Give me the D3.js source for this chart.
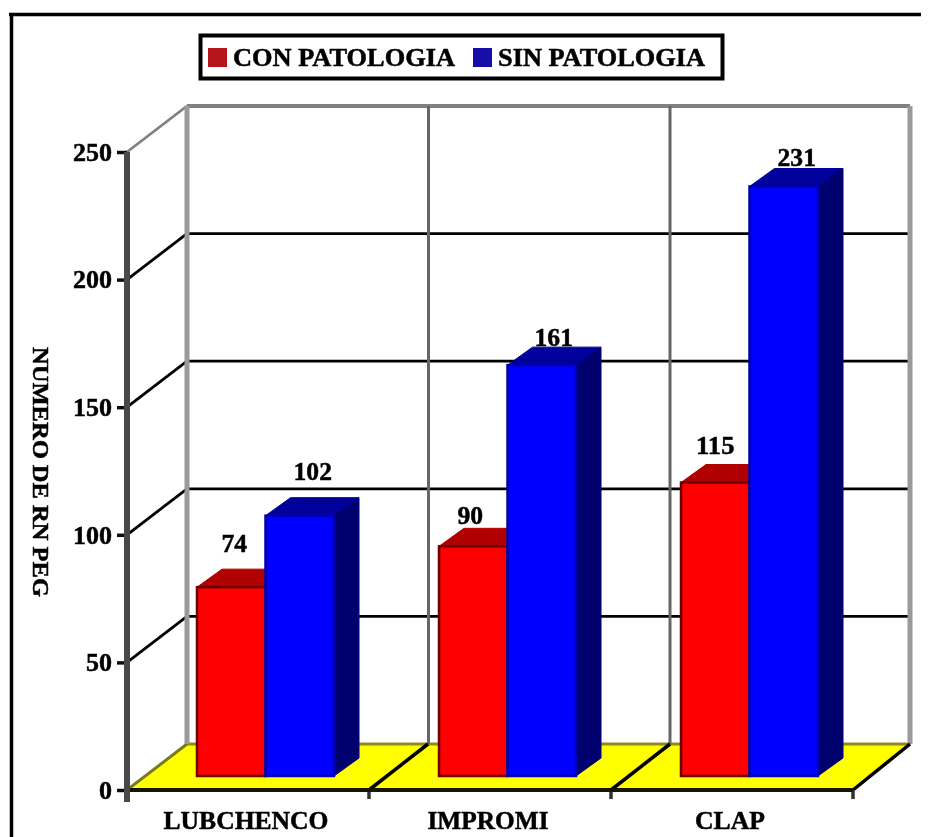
<!DOCTYPE html>
<html><head><meta charset="utf-8">
<script src="https://cdn.jsdelivr.net/npm/d3@7/dist/d3.min.js"></script>
<style>html,body{margin:0;padding:0;background:#fff}svg{display:block}
text{font-family:"Liberation Serif",serif;font-weight:bold;fill:#000;stroke:#000;stroke-width:0.5}</style>
</head><body><svg id="c" width="936" height="837"></svg>
<script>
const categories = ["LUBCHENCO","IMPROMI","CLAP"];
const seriesNames = ["CON PATOLOGIA","SIN PATOLOGIA"];
const conPatologia = [74,90,115];
const sinPatologia = [102,161,231];
const yTicks = [0,50,100,150,200,250];
const frontColors = ["#ff0000","#0000ff"];
const outlineColors = ["#6a0000","#0000b0"];
const topColors = ["#b00000","#00009a"];
const sideColors = ["#800000","#00006e"];
const legendColors = ["#b5121b","#1408a8"];
const yAxisTitle = "NUMERO DE RN PEG";
// label lift above each bar's front-top edge, by series then category
const labelLift = [[35,22,29],[36,19,20]];
const labelShift = [[3,-3,0],[13,12,13]];

const svg = d3.select("#c");
svg.append("defs").append("filter").attr("id","soft").attr("filterUnits","userSpaceOnUse")
  .attr("x",0).attr("y",0).attr("width",936).attr("height",837)
  .append("feGaussianBlur").attr("stdDeviation",0.7);
const g = svg.append("g").attr("filter","url(#soft)");
g.append("rect").attr("width",936).attr("height",837).attr("fill","#fff").attr("stroke","none");

const y = d3.scaleLinear().domain([0,250]).range([790,152]);
const x = d3.scaleBand().domain(categories).range([127,853]);
const depth = {dx:60,dy:-46};
const barInset = {dx:18,dy:-14};
const barDepth = {dx:25,dy:-18};
const barW = 68.5;
const poly = (pts,fill,stroke)=>g.append("polygon").attr("points",pts.map(p=>p.join(",")).join(" ")).attr("fill",fill)
  .attr("stroke",stroke||fill).attr("stroke-width",1).attr("stroke-linejoin","round");
const line = (x1,y1,x2,y2,c,w)=>g.append("line").attr("x1",x1).attr("y1",y1).attr("x2",x2).attr("y2",y2).attr("stroke",c).attr("stroke-width",w);
const label = (sel,size,len)=>sel.attr("font-size",size).attr("textLength",len).attr("lengthAdjust","spacingAndGlyphs");

// outer frame
line(9,14.5,921,14.5,"#000",3.5);
line(11.5,13,11.5,837,"#000",3.5);

const x0 = x.range()[0], x1 = x.range()[1], backR = x1+depth.dx-3;
poly([[x0+4,y(0)],[x1,y(0)],[backR,y(0)+depth.dy],[x0+depth.dx,y(0)+depth.dy]],"#ffff00");
line(x0+depth.dx,y(0)+depth.dy,backR,y(0)+depth.dy,"#8f8a20",3);
line(x0,y(0),x0+depth.dx,y(0)+depth.dy,"#7a7a20",3);
yTicks.forEach(t=>{
  const c = t===250?"#808080":"#000";
  if(t>0){
    line(x0,y(t),x0+depth.dx,y(t)+depth.dy,c,2.8);
    line(x0+depth.dx,y(t)+depth.dy,backR,y(t)+depth.dy,c,t===250?4:2.8);
  }
});
categories.forEach((c,i)=>{
  const xb = x(c)+depth.dx+(i===0?0:-0.5*i);
  line(xb,y(250)+depth.dy,xb,y(0)+depth.dy,i===0?"#9a9a9a":"#666",i===0?5:3);
});
line(backR,y(250)+depth.dy,backR,y(0)+depth.dy,"#9a9a9a",5);
d3.range(1,4).forEach(i=>{
  const xf = x0+i*x.bandwidth();
  line(xf,y(0),xf+depth.dx-(i===3?3:1),y(0)+depth.dy,"#000",3.5);
  line(xf,y(0),xf,y(0)+9,"#333",3.5);
});
line(x0,y(0),x1,y(0),"#141400",4);
const ax = g.append("g").attr("transform",`translate(${x0},0)`).call(d3.axisLeft(y).tickValues(yTicks).tickSize(10).tickPadding(5));
ax.select(".domain").remove();
g.append("line").attr("x1",x0).attr("y1",y(250)).attr("x2",x0).attr("y2",y(0)+12).attr("stroke","#4a4a4a").attr("stroke-width",6);
ax.selectAll(".tick line").attr("stroke","#111").attr("stroke-width",3.5);
ax.selectAll(".tick text").attr("font-size",26).attr("font-family",'"Liberation Serif",serif').attr("font-weight","bold").attr("fill","#000");
ax.selectAll(".tick text").filter(d=>d>=100).attr("textLength",39).attr("lengthAdjust","spacingAndGlyphs");
ax.selectAll(".tick text").filter(d=>d===50).attr("textLength",26).attr("lengthAdjust","spacingAndGlyphs");
ax.selectAll(".tick text").filter(d=>d===0).attr("textLength",13).attr("lengthAdjust","spacingAndGlyphs");

g.selectAll(".cat").data(categories).join("text").attr("class","cat")
  .attr("x",d=>x(d)+x.bandwidth()/2-2).attr("y",829).attr("text-anchor","middle")
  .attr("font-size",26).attr("lengthAdjust","spacingAndGlyphs").attr("textLength",d=>d==="LUBCHENCO"?165:d==="IMPROMI"?121:70).text(d=>d);
label(g.append("text").attr("transform","translate(33,472) rotate(90)").attr("text-anchor","middle").text(yAxisTitle),23,250);

const values = [conPatologia,sinPatologia];
const base = y(0)+barInset.dy;
const h = v=>y(0)-y(v);
categories.forEach((c,ci)=>{
  const left = x(c)+barInset.dx+52;
  [0,1].forEach(si=>{
    const v = values[si][ci];
    const xl = left+si*barW, xr = xl+barW, top = base-h(v);
    poly([[xl,top],[xr,top],[xr+barDepth.dx,top+barDepth.dy],[xl+barDepth.dx,top+barDepth.dy]],topColors[si]);
    poly([[xr,top],[xr+barDepth.dx,top+barDepth.dy],[xr+barDepth.dx,base+barDepth.dy],[xr,base]],sideColors[si]);
  });
  [0,1].forEach(si=>{
    const v = values[si][ci];
    const xl = left+si*barW, top = base-h(v);
    g.append("rect").attr("x",xl).attr("y",top).attr("width",barW).attr("height",h(v)).attr("fill",frontColors[si]).attr("stroke",outlineColors[si]).attr("stroke-width",2.5);
    label(g.append("text").attr("x",xl+barW/2+labelShift[si][ci]).attr("y",top-labelLift[si][ci]).attr("text-anchor","middle").text(v),26,String(v).length*12.8);
  });
});
g.append("rect").attr("x",200.5).attr("y",35.5).attr("width",522).attr("height",43).attr("fill","#fff").attr("stroke","#000").attr("stroke-width",4);
[[208,seriesNames[0],233,222],[473,seriesNames[1],498,207]].forEach((d,i)=>{
  g.append("rect").attr("x",d[0]).attr("y",48).attr("width",19).attr("height",19).attr("fill",legendColors[i]);
  label(g.append("text").attr("x",d[2]).attr("y",66).text(d[1]),26,d[3]);
});
</script></body></html>
